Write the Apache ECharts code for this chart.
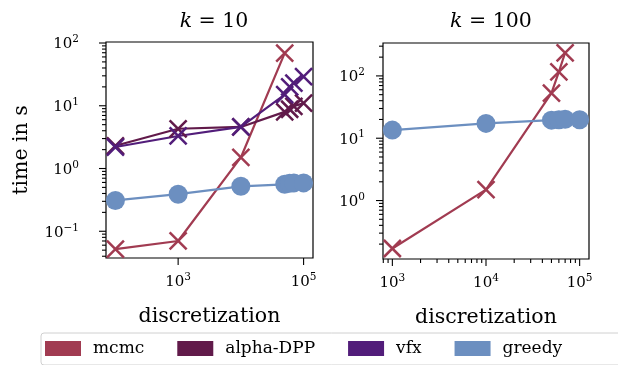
<!DOCTYPE html>
<html>
<head>
    <meta charset="UTF-8">
    <title>time vs discretization</title>
    <script src="https://cdn.jsdelivr.net/npm/echarts@6/dist/echarts.min.js"></script>
    <style>
        html, body { margin: 0; padding: 0; background: #fff; }
        #main { width: 618px; height: 365px; }
    </style>
</head>
<body>
<div id="main"></div>
<script>
    // k = 10
    var xLeft = [100, 1000, 10000, 50000, 60000, 70000, 100000];
    var mcmcLeft = [0.052, 0.070, 1.5, 69];
    var alphaLeft = [2.3, 4.3, 4.6, 8.0, 8.8, 9.8, 11.0];
    var vfxLeft = [2.2, 3.3, 4.6, 15, 20, 23, 29];
    var greedyLeft = [0.31, 0.39, 0.52, 0.56, 0.58, 0.59, 0.59];

    // k = 100
    var xRight = [1000, 10000, 50000, 60000, 70000, 100000];
    var mcmcRight = [0.17, 1.5, 53, 116, 235];
    var greedyRight = [13.5, 17.3, 19.5, 19.8, 20.2, 19.8];

    // tick labels (log10 exponents)
    var xLabelsLeft = [3, 5];
    var xLabelsRight = [3, 4, 5];
    var yLabelsLeft = [-1, 0, 1, 2];
    var yLabelsRight = [0, 1, 2];

    var names = ['mcmc', 'alpha-DPP', 'vfx', 'greedy'];
    var colors = ['#a13b51', '#611a4a', '#521d7a', '#6c8fc0'];

    var FONT = 'DejaVu Serif';
    var CROSS = 'path://M0,0L10,10M10,0L0,10';

    function pairs(xs, ys) {
        var out = [];
        for (var i = 0; i < ys.length; i++) out.push([xs[i], ys[i]]);
        return out;
    }

    function powLabel(shown) {
        return function (v) {
            var e = Math.log10(v), r = Math.round(e);
            if (Math.abs(e - r) > 1e-6 || shown.indexOf(r) < 0) return '';
            return '{n|10}{s|' + (r < 0 ? '\u2212' + (-r) : r) + '}';
        };
    }

    var labelRich = {
        n: {fontFamily: FONT, fontSize: 15, color: '#000', verticalAlign: 'bottom'},
        s: {fontFamily: FONT, fontSize: 10.5, color: '#000', verticalAlign: 'bottom', padding: [0, 0, 7, 0]}
    };

    // matplotlib-like ticks drawn through the axes' own scales
    function decadeTicks(lo, hi, withMinor) {
        var out = [];
        for (var d = lo; d <= hi; d++) {
            for (var m = 1; m <= 9; m++) {
                if (m > 1 && !withMinor) break;
                out.push({v: m * Math.pow(10, d), major: m === 1});
            }
        }
        return out;
    }

    function tickSeries(idx, xMin, xMax, yMin, yMax, xTicks, yTicks) {
        var list = [];
        xTicks.forEach(function (t) {
            if (t.v >= xMin && t.v <= xMax) list.push({axis: 'x', v: t.v, major: t.major});
        });
        yTicks.forEach(function (t) {
            if (t.v >= yMin && t.v <= yMax) list.push({axis: 'y', v: t.v, major: t.major});
        });
        return {
            type: 'custom',
            xAxisIndex: idx, yAxisIndex: idx,
            silent: true, clip: false, z: 1,
            data: list.map(function (t, i) { return [i, 0]; }),
            renderItem: function (params, api) {
                var t = list[params.dataIndex];
                var len = t.major ? 7 : 4;
                var p, shape;
                if (t.axis === 'x') {
                    p = api.coord([t.v, yMin]);
                    shape = {x1: p[0], y1: p[1], x2: p[0], y2: p[1] + len};
                } else {
                    p = api.coord([xMin, t.v]);
                    shape = {x1: p[0] - len, y1: p[1], x2: p[0], y2: p[1]};
                }
                return {type: 'line', shape: shape, style: {stroke: '#000', lineWidth: 1.1}};
            }
        };
    }

    function lineSeries(name, idx, data, color, circle) {
        return {
            name: name, type: 'line', xAxisIndex: idx, yAxisIndex: idx,
            data: data,
            showSymbol: true, showAllSymbol: true,
            symbol: circle ? 'circle' : CROSS,
            symbolSize: circle ? 19 : 17,
            lineStyle: {color: color, width: 2.2},
            itemStyle: circle ? {color: color} : {color: color, borderColor: color, borderWidth: 2.5},
            emphasis: {disabled: true},
            z: 3
        };
    }

    var xMinL = Math.pow(10, 1.85), xMaxL = Math.pow(10, 5.15);
    var yMinL = Math.pow(10, -1.426), yMaxL = Math.pow(10, 2.016);
    var xMinR = Math.pow(10, 2.9), xMaxR = Math.pow(10, 5.1);
    var yMinR = Math.pow(10, -0.938), yMaxR = Math.pow(10, 2.528);

    function xAxis(idx, min, max, shown) {
        return {
            type: 'log', gridIndex: idx, min: min, max: max,
            axisLine: {show: false}, axisTick: {show: false}, splitLine: {show: false},
            axisLabel: {formatter: powLabel(shown), rich: labelRich, margin: 14, showMinLabel: true, showMaxLabel: true},
            name: 'discretization', nameLocation: 'middle', nameGap: 48,
            nameTextStyle: {fontFamily: FONT, fontSize: 20.5, color: '#000'}
        };
    }

    function yAxis(idx, min, max, shown, margin, name) {
        return {
            type: 'log', gridIndex: idx, min: min, max: max,
            axisLine: {show: false}, axisTick: {show: false}, splitLine: {show: false},
            axisLabel: {formatter: powLabel(shown), rich: labelRich, margin: margin},
            name: name, nameLocation: 'middle', nameGap: 74,
            nameTextStyle: {fontFamily: FONT, fontSize: 20.5, color: '#000'}
        };
    }

    var chart = echarts.init(document.getElementById('main'), null, {renderer: 'canvas'});

    var titleRich = {
        i: {fontFamily: FONT, fontStyle: 'italic', fontWeight: 'normal', fontSize: 20.5, color: '#000'},
        r: {fontFamily: FONT, fontWeight: 'normal', fontSize: 20.5, color: '#000'}
    };

    chart.setOption({
        animation: false,
        backgroundColor: '#fff',
        title: [
            {text: '{i|k}{r| = 10}', left: 209, top: 6, textAlign: 'center', textStyle: {fontWeight: 'normal', rich: titleRich}},
            {text: '{i|k}{r| = 100}', left: 486, top: 6, textAlign: 'center', textStyle: {fontWeight: 'normal', rich: titleRich}}
        ],
        grid: [
            {left: 106, top: 42, width: 207, height: 216, show: true, borderColor: '#000', borderWidth: 1.2, backgroundColor: 'transparent'},
            {left: 383, top: 43, width: 206, height: 216, show: true, borderColor: '#000', borderWidth: 1.2, backgroundColor: 'transparent'}
        ],
        xAxis: [
            xAxis(0, xMinL, xMaxL, xLabelsLeft),
            xAxis(1, xMinR, xMaxR, xLabelsRight)
        ],
        yAxis: [
            yAxis(0, yMinL, yMaxL, yLabelsLeft, 27, 'time in s'),
            yAxis(1, yMinR, yMaxR, yLabelsRight, 18, '')
        ],
        legend: {
            left: 41, top: 333, width: 700,
            orient: 'horizontal',
            icon: 'rect', itemWidth: 36, itemHeight: 15, itemGap: 33,
            padding: [7, 70, 8, 4],
            borderColor: '#d0d0d0', borderWidth: 1, borderRadius: 3,
            itemStyle: {borderWidth: 0},
            textStyle: {fontFamily: FONT, fontSize: 17, color: '#000', padding: [0, 0, 0, 7]},
            selectedMode: false,
            data: names
        },
        series: [
            tickSeries(0, xMinL, xMaxL, yMinL, yMaxL, decadeTicks(3, 5, false).filter(function (t) { return t.v === 1000 || t.v === 100000; }), decadeTicks(-2, 2, true)),
            tickSeries(1, xMinR, xMaxR, yMinR, yMaxR, decadeTicks(2, 5, true), decadeTicks(-1, 2, true)),
            lineSeries('mcmc', 0, pairs(xLeft, mcmcLeft), colors[0], false),
            lineSeries('alpha-DPP', 0, pairs(xLeft, alphaLeft), colors[1], false),
            lineSeries('vfx', 0, pairs(xLeft, vfxLeft), colors[2], false),
            lineSeries('greedy', 0, pairs(xLeft, greedyLeft), colors[3], true),
            lineSeries('mcmc', 1, pairs(xRight, mcmcRight), colors[0], false),
            lineSeries('greedy', 1, pairs(xRight, greedyRight), colors[3], true)
        ]
    });
</script>
</body>
</html>
